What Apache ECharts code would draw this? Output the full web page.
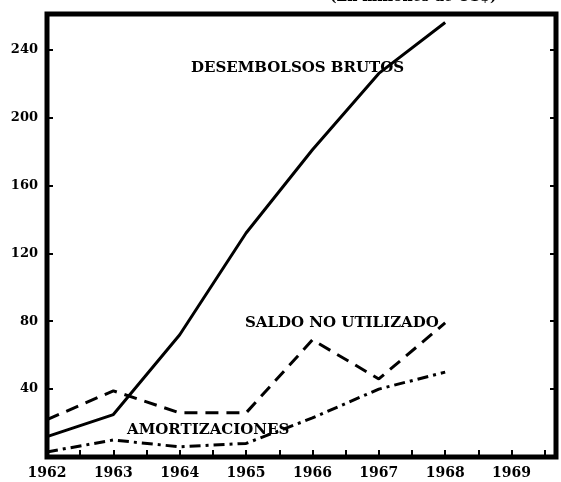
<!DOCTYPE html>
<html lang="es">
<head>
    <meta charset="UTF-8">
    <title>Desembolsos brutos, saldo no utilizado y amortizaciones</title>
    <style>
        html, body { margin: 0; padding: 0; background: #fff; }
        #chart { width: 561px; height: 482px; }
    </style>
</head>
<body>
<div id="chart"></div>

<script src="https://cdn.jsdelivr.net/npm/echarts@6/dist/echarts.min.js"></script>
<script>
    // datos (millones de US$)
    const years = [1962, 1963, 1964, 1965, 1966, 1967, 1968];
    const desembolsos = [12, 25, 72, 132, 181, 226, 256];
    const saldo = [22, 39, 26, 26, 69, 46, 79];
    const amortizaciones = [3, 10, 6, 8, 23, 40, 50];
    const yTicks = [40, 80, 120, 160, 200, 240];

    const font = 'DejaVu Serif';
    const pair = (vals) => vals.map((v, i) => [years[i], v]);

    let chart = echarts.init(document.getElementById('chart'));

    const option = {
        animation: false,
        grid: {
            left: 47, top: 14, right: 5, bottom: 25,
            show: true,
            borderColor: '#000',
            borderWidth: 5,
            backgroundColor: 'transparent'
        },
        xAxis: {
            type: 'value',
            min: 1962,
            max: 1969.67,
            interval: 1,
            axisLine: {show: false},
            splitLine: {show: false},
            axisTick: {show: true, inside: true, length: 7, lineStyle: {color: '#000', width: 2}},
            minorTick: {show: true, splitNumber: 2, length: 7, lineStyle: {color: '#000', width: 2}},
            axisLabel: {
                showMaxLabel: false,
                margin: 9,
                color: '#000',
                fontFamily: font,
                fontWeight: 'bold',
                fontSize: 14,
                formatter: (v) => Number.isInteger(v) ? String(v) : ''
            }
        },
        yAxis: [
            {
                type: 'value',
                min: 0,
                max: 261,
                interval: 40,
                axisLine: {show: false},
                splitLine: {show: false},
                axisTick: {show: true, inside: true, length: 6, lineStyle: {color: '#000', width: 2}},
                axisLabel: {
                    showMinLabel: false,
                    showMaxLabel: false,
                    margin: 9,
                    color: '#000',
                    fontFamily: font,
                    fontWeight: 'bold',
                    fontSize: 13,
                    formatter: (v) => yTicks.includes(v) ? String(v) : ''
                }
            },
            {
                type: 'value',
                position: 'right',
                min: 0,
                max: 261,
                interval: 40,
                axisLine: {show: false},
                splitLine: {show: false},
                axisTick: {show: true, inside: true, length: 6, lineStyle: {color: '#000', width: 2}},
                axisLabel: {show: false}
            }
        ],
        series: [
            {
                name: 'DESEMBOLSOS BRUTOS',
                type: 'line',
                data: pair(desembolsos),
                symbol: 'none',
                lineStyle: {color: '#000', width: 3, type: 'solid'}
            },
            {
                name: 'SALDO NO UTILIZADO',
                type: 'line',
                data: pair(saldo),
                symbol: 'none',
                lineStyle: {color: '#000', width: 3, type: [13, 8]}
            },
            {
                name: 'AMORTIZACIONES',
                type: 'line',
                data: pair(amortizaciones),
                symbol: 'none',
                lineStyle: {color: '#000', width: 3, type: [11, 5, 3, 5]}
            }
        ],
        graphic: [
            {
                type: 'text', left: 330, top: -10,
                style: {text: '(En millones de US$)', fill: '#000', font: 'bold 14px "DejaVu Serif"'}
            },
            {
                type: 'text', left: 191, top: 61,
                style: {text: 'DESEMBOLSOS BRUTOS', fill: '#000', font: 'bold 15px "DejaVu Serif"'}
            },
            {
                type: 'text', left: 245, top: 316,
                style: {text: 'SALDO NO UTILIZADO', fill: '#000', font: 'bold 15px "DejaVu Serif"'}
            },
            {
                type: 'text', left: 127, top: 423,
                style: {text: 'AMORTIZACIONES', fill: '#000', font: 'bold 15px "DejaVu Serif"'}
            }
        ]
    };

    chart.setOption(option);
</script>
</body>
</html>
